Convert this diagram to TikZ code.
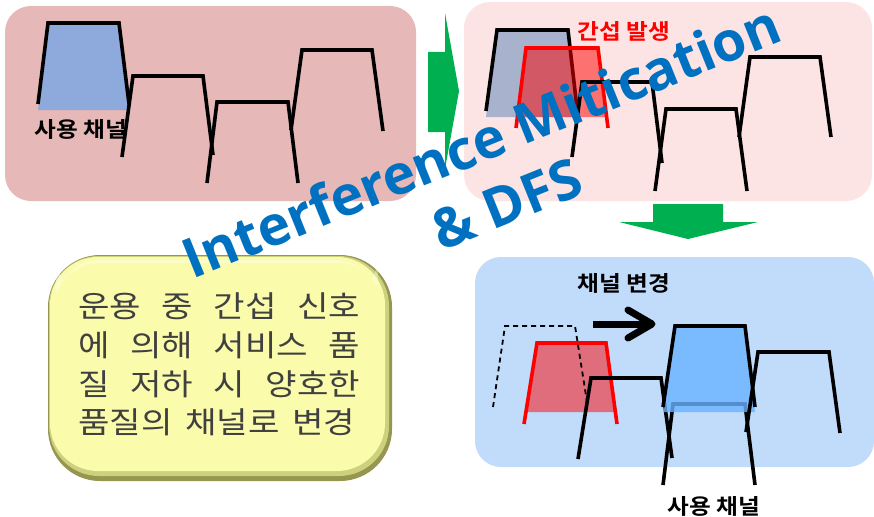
\documentclass[tikz,border=0pt]{standalone}
\usepackage{fontspec}
\setmainfont{Liberation Sans}
\newfontfamily\kr{Noto Sans CJK KR}[FakeStretch=1.14]
\newfontfamily\krb{Noto Sans CJK KR Bold}[FakeStretch=1.1]
\newfontfamily\bluefont{Open Sans}[BoldFont={Open Sans Bold}]
\definecolor{panelA}{RGB}{230,184,183}
\definecolor{panelB}{RGB}{253,228,228}
\definecolor{panelC}{RGB}{192,220,250}
\definecolor{chanblue}{RGB}{142,169,219}
\definecolor{changray}{RGB}{168,178,204}
\definecolor{chanlblue}{RGB}{105,178,255}
\definecolor{arrowgreen}{RGB}{0,176,80}
\definecolor{titleblue}{RGB}{0,112,192}
\definecolor{yelfill}{RGB}{250,252,172}
\definecolor{yeledge}{RGB}{150,150,80}
\definecolor{yelmid}{RGB}{205,208,125}
\definecolor{textgray}{RGB}{64,64,64}
\begin{document}
\begin{tikzpicture}[x=1pt,y=-1pt,
  chan/.style={draw=black,line width=3.6pt},
  redchan/.style={draw=red,line width=3.6pt},
  panelbox/.style={rounded corners=26pt,draw=none,inner sep=0pt},
  klabel/.style={font=\krb\fontsize{21.5}{24}\selectfont,inner sep=0pt},
  yline/.style={font=\kr\fontsize{30}{34}\selectfont,text=textgray,inner sep=0pt,anchor=base west},
  btitle/.style={font=\bluefont\bfseries\fontsize{55}{60}\selectfont,text=titleblue,rotate=22,anchor=base,inner sep=0pt}
]
\useasboundingbox (0,0) rectangle (874,516);
\fill[white] (0,0) rectangle (874,516);

% ---------- top-left panel ----------
\node[panelbox,fill=panelA,minimum width=411pt,minimum height=195pt] (pA) at (210.5,103.5) {};
\fill[chanblue] (38,110) -- (48,23) -- (119,23) -- (129,110) -- cycle;
\draw[chan] (38,104) -- (48,23) -- (119,23) -- (129,104);
\draw[chan] (122,157) -- (133,76) -- (203,76) -- (213,155);
\draw[chan] (207,183) -- (217,102) -- (288,102) -- (298,183);
\draw[chan] (291,130) -- (302,50) -- (372,50) -- (383,131);
\node[klabel] (useA) at (81,129) {사용 채널};

% ---------- green right arrow ----------
\fill[arrowgreen] (428,52) -- (445,52) -- (445,13) -- (459,91) -- (445,169) -- (445,132) -- (428,132) -- cycle;

% ---------- top-right panel ----------
\node[panelbox,fill=panelB,minimum width=408pt,minimum height=199pt] (pB) at (668,101.5) {};
\fill[changray] (486,117) -- (497,30) -- (568,30) -- (578,117) -- cycle;
\draw[chan] (486,111) -- (497,30) -- (568,30) -- (578,117);
\fill[red,fill opacity=0.5] (516,117) -- (526,48) -- (598,48) -- (607,117) -- cycle;
\draw[redchan] (516,128) -- (526,48) -- (598,48) -- (608,128);
\draw[chan] (572,157) -- (582,82) -- (652,82) -- (662,163);
\draw[chan] (655,191) -- (666,109) -- (736,109) -- (747,191);
\draw[chan] (739,137) -- (750,57) -- (820,57) -- (831,137);
\node[klabel,text=red] (intf) at (624,31) {간섭 발생};

% ---------- green down arrow ----------
\fill[arrowgreen] (653,204) -- (723,204) -- (723,222) -- (758,222) -- (688,239) -- (619,222) -- (653,222) -- cycle;

% ---------- bottom-right panel ----------
\node[panelbox,fill=panelC,minimum width=399pt,minimum height=210pt] (pC) at (674.5,362) {};
\fill[red,fill opacity=0.5] (527,412) -- (537,343) -- (606,343) -- (614,412) -- cycle;
\draw[redchan] (524,424) -- (537,343) -- (606,343) -- (617,424);
\draw[black,line width=1.8pt,dash pattern=on 5pt off 4pt] (493,407) -- (505,326) -- (575,326) -- (587,402);
\draw[chan] (578,459) -- (591,378) -- (661,378) -- (672,458);
\draw[chan] (663,485) -- (673,404) -- (745,404) -- (755,485);
\fill[chanlblue,fill opacity=0.8] (663,412) -- (675,326) -- (745,326) -- (755,412) -- cycle;
\draw[chan] (663,407) -- (675,326) -- (745,326) -- (755,407);
\draw[chan] (746,432) -- (758,352) -- (829,352) -- (840,433);
\coordinate (arS) at (593,324);
\coordinate (arE) at (650,324);
\draw[black,line width=7pt] (arS) -- (arE);
\draw[black,line width=7pt,line cap=round,line join=round] (628,310) -- (652,324) -- (628,338);
\node[klabel] (chg) at (624,283) {채널 변경};
\node[klabel] (useC) at (714,506) {사용 채널};

% ---------- yellow box ----------
\fill[yeledge] (48,255) [rounded corners=52pt] rectangle (392,481);
\fill[yelmid] (49,256) [rounded corners=50pt] rectangle (389,476);
\fill[yelfill] (50,257) [rounded corners=48pt] rectangle (385,471);
\fill[white,opacity=0.35] (56,260) [rounded corners=44pt] rectangle (378,300);
\fill[yelfill] (54,263) [rounded corners=46pt] rectangle (383,468);
\node[yline] (y1) at (78,317) {\makebox[282pt][s]{운용 중 간섭 신호}};
\node[yline] (y2) at (78,356) {\makebox[282pt][s]{에 의해 서비스 품}};
\node[yline] (y3) at (78,395) {\makebox[282pt][s]{질 저하 시 양호한}};
\node[yline] (y4) at (78,433) {\makebox[277pt][s]{품질의 채널로 변경}};

% ---------- rotated title ----------
\node[btitle] (t1) at (489,160) {Interference Mitication};
\node[btitle] (t2) at (514,222) {\& DFS};
\end{tikzpicture}
\end{document}
